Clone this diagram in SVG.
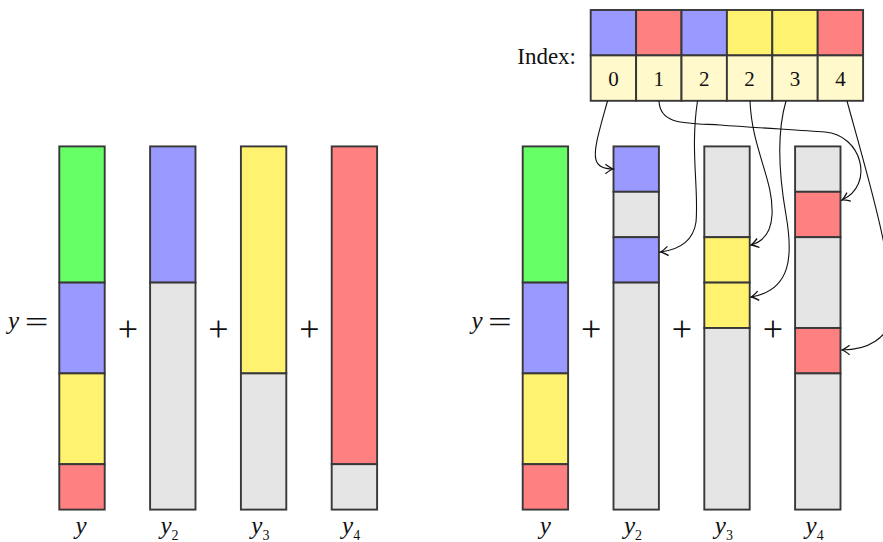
<svg xmlns="http://www.w3.org/2000/svg" width="883" height="542" viewBox="0 0 883 542">
<defs>
<style>
.s{stroke:#383838;stroke-width:1.9}
.g{fill:#e5e5e5}.b{fill:#9999ff}.r{fill:#ff8080}.yl{fill:#fff26e}.gr{fill:#66ff66}.ly{fill:#fff9cc}
.c{fill:none;stroke:#111;stroke-width:1.1}
</style>
<marker id="ar" markerUnits="userSpaceOnUse" markerWidth="14" markerHeight="14" viewBox="-8 -6 10 12" refX="0" refY="0" orient="auto">
<path d="M-6.5,-4 Q-2,-0.6 0,0 Q-2,0.6 -6.5,4" fill="none" stroke="#111" stroke-width="1.1"/>
</marker>
</defs>
<rect width="883" height="542" fill="#fff"/>

<!-- Left side -->
<g id="left-y">
<rect class="s gr" x="59.3" y="146.4" width="45.4" height="136.2"/>
<rect class="s b" x="59.3" y="282.6" width="45.4" height="90.8"/>
<rect class="s yl" x="59.3" y="373.4" width="45.4" height="90.8"/>
<rect class="s r" x="59.3" y="464.2" width="45.4" height="45.4"/>
</g>
<g id="left-y2">
<rect class="s b" x="150.1" y="146.4" width="45.4" height="136.2"/>
<rect class="s g" x="150.1" y="282.6" width="45.4" height="227"/>
</g>
<g id="left-y3">
<rect class="s yl" x="240.9" y="146.4" width="45.4" height="227"/>
<rect class="s g" x="240.9" y="373.4" width="45.4" height="136.2"/>
</g>
<g id="left-y4">
<rect class="s r" x="331.7" y="146.4" width="45.4" height="317.8"/>
<rect class="s g" x="331.7" y="464.2" width="45.4" height="45.4"/>
</g>
<g id="left-labels" font-family="'Liberation Serif', 'Times New Roman', 'DejaVu Serif', serif" fill="#111">
<text x="8" y="329" font-size="25" font-style="italic">y</text>
<text transform="translate(36.5,332) scale(1.4,1)" x="0" y="0" font-size="30" text-anchor="middle">=</text>
<text x="127.8" y="341" font-size="36" text-anchor="middle">+</text>
<text x="218.5" y="341" font-size="36" text-anchor="middle">+</text>
<text x="309.3" y="341" font-size="36" text-anchor="middle">+</text>
<text x="81" y="534" font-size="25" font-style="italic" text-anchor="middle">y</text>
<text x="160.5" y="534" font-size="25" font-style="italic">y<tspan font-style="normal" font-size="14" dy="6">2</tspan></text>
<text x="251.3" y="534" font-size="25" font-style="italic">y<tspan font-style="normal" font-size="14" dy="6">3</tspan></text>
<text x="342.1" y="534" font-size="25" font-style="italic">y<tspan font-style="normal" font-size="14" dy="6">4</tspan></text>
</g>

<!-- Right side -->
<g id="right-y">
<rect class="s gr" x="522.7" y="146.4" width="45.4" height="136.2"/>
<rect class="s b" x="522.7" y="282.6" width="45.4" height="90.8"/>
<rect class="s yl" x="522.7" y="373.4" width="45.4" height="90.8"/>
<rect class="s r" x="522.7" y="464.2" width="45.4" height="45.4"/>
</g>
<g id="right-y2">
<rect class="s b" x="613.5" y="146.4" width="45.4" height="45.4"/>
<rect class="s g" x="613.5" y="191.8" width="45.4" height="45.4"/>
<rect class="s b" x="613.5" y="237.2" width="45.4" height="45.4"/>
<rect class="s g" x="613.5" y="282.6" width="45.4" height="227"/>
</g>
<g id="right-y3">
<rect class="s g" x="704.3" y="146.4" width="45.4" height="90.8"/>
<rect class="s yl" x="704.3" y="237.2" width="45.4" height="45.4"/>
<rect class="s yl" x="704.3" y="282.6" width="45.4" height="45.4"/>
<rect class="s g" x="704.3" y="328" width="45.4" height="181.6"/>
</g>
<g id="right-y4">
<rect class="s g" x="795.1" y="146.4" width="45.4" height="45.4"/>
<rect class="s r" x="795.1" y="191.8" width="45.4" height="45.4"/>
<rect class="s g" x="795.1" y="237.2" width="45.4" height="90.8"/>
<rect class="s r" x="795.1" y="328" width="45.4" height="45.4"/>
<rect class="s g" x="795.1" y="373.4" width="45.4" height="136.2"/>
</g>
<g id="right-labels" font-family="'Liberation Serif', 'Times New Roman', 'DejaVu Serif', serif" fill="#111">
<text x="471.5" y="329" font-size="25" font-style="italic">y</text>
<text transform="translate(499.9,332) scale(1.4,1)" x="0" y="0" font-size="30" text-anchor="middle">=</text>
<text x="591.2" y="341" font-size="36" text-anchor="middle">+</text>
<text x="682" y="341" font-size="36" text-anchor="middle">+</text>
<text x="772.8" y="341" font-size="36" text-anchor="middle">+</text>
<text x="545.4" y="534" font-size="25" font-style="italic" text-anchor="middle">y</text>
<text x="624" y="534" font-size="25" font-style="italic">y<tspan font-style="normal" font-size="14" dy="6">2</tspan></text>
<text x="714.8" y="534" font-size="25" font-style="italic">y<tspan font-style="normal" font-size="14" dy="6">3</tspan></text>
<text x="805.6" y="534" font-size="25" font-style="italic">y<tspan font-style="normal" font-size="14" dy="6">4</tspan></text>
</g>

<!-- Index array -->
<g id="index">
<rect class="s b" x="590.7" y="10" width="45.4" height="45.4"/>
<rect class="s r" x="636.1" y="10" width="45.4" height="45.4"/>
<rect class="s b" x="681.5" y="10" width="45.4" height="45.4"/>
<rect class="s yl" x="726.9" y="10" width="45.4" height="45.4"/>
<rect class="s yl" x="772.3" y="10" width="45.4" height="45.4"/>
<rect class="s r" x="817.7" y="10" width="45.4" height="45.4"/>
<rect class="s ly" x="590.7" y="55.4" width="45.4" height="45.4"/>
<rect class="s ly" x="636.1" y="55.4" width="45.4" height="45.4"/>
<rect class="s ly" x="681.5" y="55.4" width="45.4" height="45.4"/>
<rect class="s ly" x="726.9" y="55.4" width="45.4" height="45.4"/>
<rect class="s ly" x="772.3" y="55.4" width="45.4" height="45.4"/>
<rect class="s ly" x="817.7" y="55.4" width="45.4" height="45.4"/>
<g font-family="'Liberation Serif', 'Times New Roman', 'DejaVu Serif', serif" fill="#111">
<text x="576" y="64" font-size="23" text-anchor="end">Index:</text>
<text x="613.4" y="86" font-size="21" text-anchor="middle">0</text>
<text x="658.8" y="86" font-size="21" text-anchor="middle">1</text>
<text x="704.2" y="86" font-size="21" text-anchor="middle">2</text>
<text x="749.6" y="86" font-size="21" text-anchor="middle">2</text>
<text x="795" y="86" font-size="21" text-anchor="middle">3</text>
<text x="840.4" y="86" font-size="21" text-anchor="middle">4</text>
</g>
</g>

<!-- Connectors -->
<g id="connectors">
<path class="c" marker-end="url(#ar)" d="M607.5,101 C600,128 593,150 596,160 C598,167 604,169 613,169"/>
<path class="c" marker-end="url(#ar)" d="M659,101 C660,125 685,123 720,125 C760,128 800,130 825,132 C862,135 875,185 842,200"/>
<path class="c" marker-end="url(#ar)" d="M697.5,101 C690,150 699,190 696,222 C693,243 676,250 660.5,252"/>
<path class="c" marker-end="url(#ar)" d="M750,101 C752,150 774,180 772,215 C771,234 762,242 751,245"/>
<path class="c" marker-end="url(#ar)" d="M786,101 C776,135 779,175 786,215 C793,255 792,290 751,297"/>
<path class="c" marker-end="url(#ar)" d="M847,101 C866,170 893,260 892,310 C891,340 865,350 842,350"/>
</g>
</svg>
